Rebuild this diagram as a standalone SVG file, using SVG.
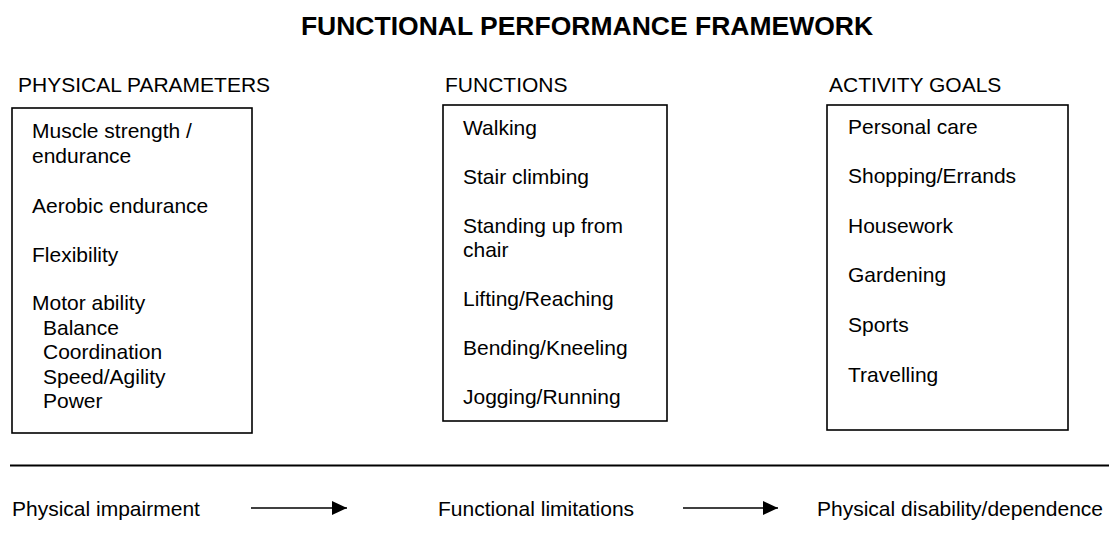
<svg xmlns="http://www.w3.org/2000/svg" width="1109" height="551" viewBox="0 0 1109 551">
<defs>
<style>
text{font-family:"Liberation Sans",Arial,sans-serif;font-size:21px;fill:#000}
.title{font-weight:bold;font-size:26.5px}
.box{fill:#fff;stroke:#000;stroke-width:1.6}
.conn{stroke:#000;stroke-width:1.6;fill:none}
</style>
<marker id="arr" viewBox="0 0 10 10" refX="10" refY="5" markerWidth="15" markerHeight="14" markerUnits="userSpaceOnUse" orient="auto" preserveAspectRatio="none">
<path d="M0,0 L10,5 L0,10 z" fill="#000"/>
</marker>
</defs>
<rect width="1109" height="551" fill="#fff"/>
<text class="title" x="587" y="35" text-anchor="middle">FUNCTIONAL PERFORMANCE FRAMEWORK</text>
<g id="physical-parameters">
<text x="18" y="92">PHYSICAL PARAMETERS</text>
<rect class="box" x="12" y="108" width="240" height="325"/>
<text x="32" y="138">Muscle strength /</text>
<text x="32" y="163">endurance</text>
<text x="32" y="213">Aerobic endurance</text>
<text x="32" y="262">Flexibility</text>
<text x="32" y="310">Motor ability</text>
<text x="43" y="335">Balance</text>
<text x="43" y="359">Coordination</text>
<text x="43" y="384">Speed/Agility</text>
<text x="43" y="408">Power</text>
</g>
<g id="functions">
<text x="445" y="92">FUNCTIONS</text>
<rect class="box" x="443" y="105" width="224" height="316"/>
<text x="463" y="135">Walking</text>
<text x="463" y="184">Stair climbing</text>
<text x="463" y="233">Standing up from</text>
<text x="463" y="257">chair</text>
<text x="463" y="306">Lifting/Reaching</text>
<text x="463" y="355">Bending/Kneeling</text>
<text x="463" y="404">Jogging/Running</text>
</g>
<g id="activity-goals">
<text x="829" y="92">ACTIVITY GOALS</text>
<rect class="box" x="827" y="105" width="241" height="325"/>
<text x="848" y="134">Personal care</text>
<text x="848" y="183">Shopping/Errands</text>
<text x="848" y="233">Housework</text>
<text x="848" y="282">Gardening</text>
<text x="848" y="332">Sports</text>
<text x="848" y="382">Travelling</text>
</g>
<line x1="10" y1="465.5" x2="1109" y2="465.5" stroke="#000" stroke-width="2"/>
<g id="physical-impairment"><text x="12" y="516">Physical impairment</text></g>
<g id="functional-limitations"><text x="438" y="516">Functional limitations</text></g>
<g id="physical-disability"><text x="817" y="516">Physical disability/dependence</text></g>
<g id="connectors">
<line class="conn" x1="251" y1="508" x2="347" y2="508" marker-end="url(#arr)"/>
<line class="conn" x1="683" y1="508" x2="778" y2="508" marker-end="url(#arr)"/>
</g>
</svg>
